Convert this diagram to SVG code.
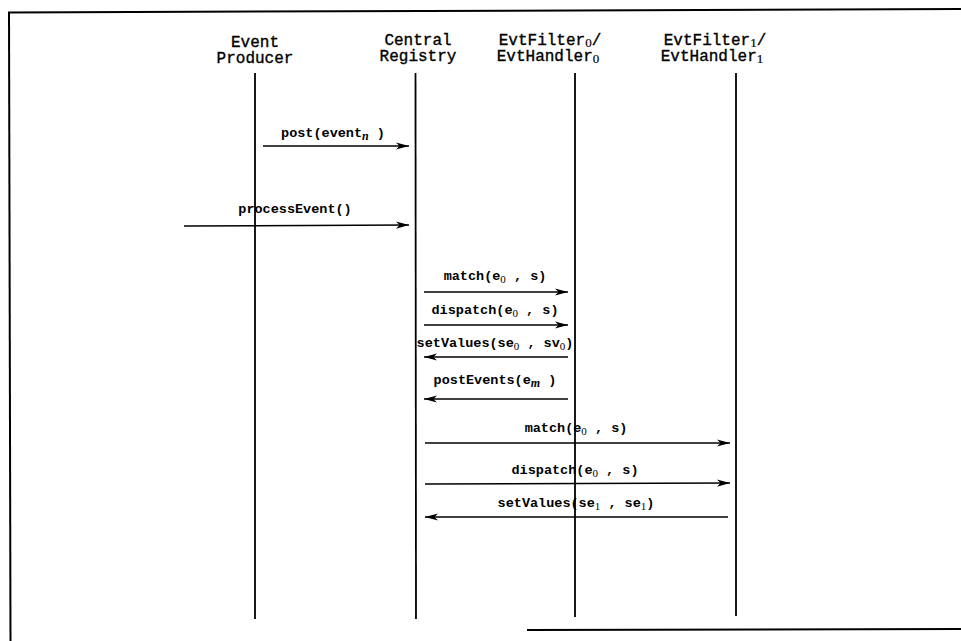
<svg xmlns="http://www.w3.org/2000/svg" width="961" height="641" viewBox="0 0 961 641">
  <style>
    .frame { stroke: #000; stroke-width: 2; fill: none; }
    .life { stroke: #000; stroke-width: 1.8; fill: none; }
    .msg { stroke: #000; stroke-width: 1.4; fill: none; }
    .head { font-family: "Liberation Mono", "DejaVu Sans Mono", monospace; font-size: 16px; fill: #000; stroke: #000; stroke-width: 0.35; text-anchor: middle; }
    .lbl { font-family: "Liberation Mono", "DejaVu Sans Mono", monospace; font-size: 13.5px; font-weight: bold; fill: #000; text-anchor: middle; }
    .sub { font-family: "Liberation Serif", "DejaVu Serif", serif; font-size: 11px; font-weight: normal; }
    .subi { font-family: "Liberation Serif", "DejaVu Serif", serif; font-size: 12px; font-style: italic; font-weight: bold; }
    .hsub { font-family: "Liberation Serif", "DejaVu Serif", serif; font-size: 13px; stroke-width: 0.2; }
  </style>
  <defs>
    <marker id="arrow" markerUnits="userSpaceOnUse" markerWidth="15" markerHeight="10" refX="13" refY="4" orient="auto">
      <path d="M0,0.4 L13,4 L0,7.6 L3.5,4 z" fill="#000"/>
    </marker>
  </defs>
  <rect width="961" height="641" fill="#fff"/>

  <!-- outer frame (open at the lower left) -->
  <g id="frame">
    <path class="frame" d="M8,12.5 L961,9"/>
    <path class="frame" d="M9,12 L10.5,641"/>
    <path class="frame" d="M527,630 L961,629"/>
  </g>

  <!-- participants -->
  <g id="producer">
    <text class="head" x="255" y="47">Event</text>
    <text class="head" x="255" y="63">Producer</text>
    <line class="life" x1="255" y1="73" x2="255" y2="619"/>
  </g>
  <g id="registry">
    <text class="head" x="418" y="45">Central</text>
    <text class="head" x="418" y="61">Registry</text>
    <line class="life" x1="415.5" y1="73" x2="416" y2="619"/>
  </g>
  <g id="filter0">
    <text class="head" x="550" y="45">EvtFilter<tspan class="hsub" dy="2">0</tspan><tspan dy="-2">/</tspan></text>
    <text class="head" x="548" y="61">EvtHandler<tspan class="hsub" dy="2">0</tspan></text>
    <line class="life" x1="575" y1="73" x2="575" y2="617"/>
  </g>
  <g id="filter1">
    <text class="head" x="715" y="45">EvtFilter<tspan class="hsub" dy="2">1</tspan><tspan dy="-2">/</tspan></text>
    <text class="head" x="712" y="61">EvtHandler<tspan class="hsub" dy="2">1</tspan></text>
    <line class="life" x1="736" y1="73" x2="736" y2="616"/>
  </g>

  <!-- messages -->
  <g id="connectors">
    <line class="msg" x1="263" y1="146" x2="409" y2="146" marker-end="url(#arrow)"/>
    <text class="lbl" x="333" y="137">post(event<tspan class="subi" dy="3">n</tspan><tspan dy="-3"> )</tspan></text>

    <line class="msg" x1="184" y1="226" x2="409" y2="225" marker-end="url(#arrow)"/>
    <text class="lbl" x="295" y="213">processEvent()</text>

    <line class="msg" x1="424" y1="292" x2="568" y2="292" marker-end="url(#arrow)"/>
    <text class="lbl" x="495" y="280">match(e<tspan class="sub" dy="3">0</tspan><tspan dy="-3"> , s)</tspan></text>

    <line class="msg" x1="424" y1="325" x2="568" y2="325" marker-end="url(#arrow)"/>
    <text class="lbl" x="495" y="314">dispatch(e<tspan class="sub" dy="3">0</tspan><tspan dy="-3"> , s)</tspan></text>

    <line class="msg" x1="568" y1="357" x2="424" y2="357" marker-end="url(#arrow)"/>
    <text class="lbl" x="495" y="347">setValues(se<tspan class="sub" dy="3">0</tspan><tspan dy="-3"> , sv</tspan><tspan class="sub" dy="3">0</tspan><tspan dy="-3">)</tspan></text>

    <line class="msg" x1="568" y1="399" x2="424" y2="399" marker-end="url(#arrow)"/>
    <text class="lbl" x="495" y="384">postEvents(e<tspan class="subi" dy="3">m</tspan><tspan dy="-3"> )</tspan></text>

    <line class="msg" x1="425" y1="443" x2="730" y2="443" marker-end="url(#arrow)"/>
    <text class="lbl" x="576" y="432">match(e<tspan class="sub" dy="3">0</tspan><tspan dy="-3"> , s)</tspan></text>

    <line class="msg" x1="425" y1="484" x2="730" y2="483" marker-end="url(#arrow)"/>
    <text class="lbl" x="575" y="474">dispatch(e<tspan class="sub" dy="3">0</tspan><tspan dy="-3"> , s)</tspan></text>

    <line class="msg" x1="728" y1="517" x2="425" y2="517" marker-end="url(#arrow)"/>
    <text class="lbl" x="576" y="507">setValues(se<tspan class="sub" dy="3">1</tspan><tspan dy="-3"> , se</tspan><tspan class="sub" dy="3">1</tspan><tspan dy="-3">)</tspan></text>
  </g>
</svg>
